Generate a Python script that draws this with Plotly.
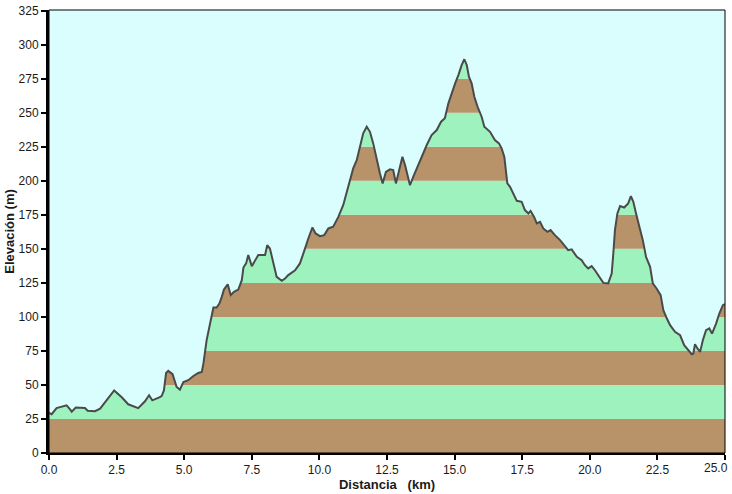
import plotly.graph_objects as go

distance_km = [
    0.00, 0.10, 0.28, 0.65, 0.78, 0.84, 0.99, 1.33, 1.43, 1.70, 1.89, 2.13, 2.41, 2.69, 2.93,
    3.30, 3.55, 3.70, 3.82, 4.10, 4.17, 4.25, 4.33, 4.41, 4.57, 4.72, 4.84, 4.97, 5.15, 5.34,
    5.52, 5.65, 5.71, 5.83, 5.93, 6.02, 6.08, 6.20, 6.30, 6.39, 6.47, 6.61, 6.72, 6.84, 7.00,
    7.13, 7.19, 7.29, 7.37, 7.50, 7.62, 7.74, 7.99, 8.07, 8.17, 8.30, 8.42, 8.61, 8.73, 8.85,
    9.10, 9.28, 9.37, 9.47, 9.59, 9.74, 9.86, 10.02, 10.18, 10.33, 10.51, 10.70, 10.88, 11.01,
    11.13, 11.25, 11.38, 11.50, 11.62, 11.75, 11.87, 11.99, 12.12, 12.24, 12.34, 12.46, 12.61,
    12.73, 12.83, 12.92, 13.07, 13.17, 13.27, 13.35, 13.47, 13.60, 13.78, 13.97, 14.15, 14.34,
    14.50, 14.64, 14.77, 14.89, 15.02, 15.14, 15.26, 15.36, 15.45, 15.53, 15.63, 15.73, 15.85,
    16.00, 16.10, 16.31, 16.49, 16.64, 16.74, 16.84, 16.89, 16.95, 17.05, 17.17, 17.30, 17.48,
    17.60, 17.73, 17.81, 17.94, 18.04, 18.16, 18.28, 18.43, 18.55, 18.71, 18.90, 19.08, 19.20,
    19.33, 19.52, 19.70, 19.82, 19.94, 20.07, 20.19, 20.38, 20.50, 20.68, 20.81, 20.87, 20.93,
    21.02, 21.12, 21.27, 21.42, 21.52, 21.61, 21.71, 21.83, 21.96, 22.08, 22.23, 22.33, 22.47,
    22.62, 22.72, 22.85, 22.97, 23.15, 23.34, 23.49, 23.65, 23.77, 23.83, 23.89, 23.98, 24.08,
    24.18, 24.30, 24.42, 24.52, 24.67, 24.79, 24.92, 25.00,
]
elevation_m = [
    29.4, 28.5, 33.0, 35.0, 32.0, 30.4, 33.4, 33.0, 31.0, 30.7, 32.6, 38.7, 46.0, 41.0, 35.8,
    33.0, 38.0, 42.4, 38.7, 41.0, 42.0, 46.0, 58.8, 60.3, 57.9, 48.5, 46.6, 52.2, 53.5, 56.6,
    58.8, 59.6, 65.7, 82.9, 92.6, 103.7, 106.9, 106.9, 109.8, 114.7, 120.1, 124.0, 116.0, 118.4, 120.1,
    127.0, 136.3, 139.3, 145.4, 137.3, 141.7, 145.4, 145.4, 152.7, 150.3, 139.3, 129.4, 126.5, 128.2, 130.7,
    134.3, 139.3, 144.1, 150.3, 157.6, 165.7, 161.3, 159.3, 160.1, 165.0, 166.2, 173.5, 182.1, 191.9,
    199.3, 209.1, 215.2, 225.0, 234.9, 239.7, 236.0, 227.5, 215.2, 205.4, 198.1, 206.6, 208.4,
    207.9, 198.1, 205.4, 217.6, 211.5, 202.9, 196.8, 202.9, 209.1, 217.6, 226.3, 233.6, 237.3,
    243.4, 245.9, 256.9, 264.3, 271.6, 277.7, 285.0, 289.3, 285.0, 276.5, 271.6, 261.8, 254.4,
    247.1, 239.7, 236.0, 229.9, 227.5, 223.8, 217.6, 207.9, 198.1, 195.6, 190.7, 185.3, 184.6,
    178.5, 176.0, 177.9, 173.5, 168.7, 169.9, 165.0, 162.5, 163.8, 160.1, 156.4, 152.0, 149.0,
    149.6, 144.1, 141.7, 138.0, 135.6, 137.3, 134.3, 129.0, 125.0, 124.6, 131.9, 146.6, 163.8,
    176.0, 181.4, 180.4, 183.4, 188.8, 184.6, 176.0, 166.2, 156.4, 144.1, 136.8, 124.6, 120.9,
    116.0, 104.9, 98.8, 93.9, 89.0, 86.5, 79.2, 75.5, 72.6, 73.1, 79.9, 76.8, 74.3,
    82.9, 90.2, 91.5, 87.8, 95.1, 102.5, 108.6, 109.3,
]
x_tick_values = [0.0, 2.5, 5.0, 7.5, 10.0, 12.5, 15.0, 17.5, 20.0, 22.5, 25.0]
y_tick_values = [0, 25, 50, 75, 100, 125, 150, 175, 200, 225, 250, 275, 300, 325]

# ---- styles ----
BG = "#DAFEFE"
BAND_COLORS = ["#B89268", "#9EF2BE"]
LINE_COLOR = "#4A4A4A"
FONT = "Liberation Sans, Arial, sans-serif"
TXT = "#1a1a1a"

# x tick labels; the last one is drawn as an annotation right-aligned so it stays on the page
x_tick_text = [f"{v:.1f}" for v in x_tick_values]
last_label = x_tick_text[-1]
x_tick_text[-1] = ""

fig = go.Figure()

# alternating elevation bands (drawn behind traces)
for i, lo in enumerate(y_tick_values[:-1]):
    hi = y_tick_values[i + 1]
    fig.add_shape(type="rect", xref="x domain", yref="y", x0=0, x1=1, y0=lo, y1=hi,
                  fillcolor=BAND_COLORS[i % 2], line_width=0, layer="below")

# invisible profile trace + sky fill above it
fig.add_trace(go.Scatter(x=distance_km, y=elevation_m, mode="lines",
                         line=dict(color="rgba(0,0,0,0)", width=0), hoverinfo="skip",
                         showlegend=False))
sky_top = [y_tick_values[-1] + 40] * len(distance_km)
fig.add_trace(go.Scatter(x=distance_km, y=sky_top, mode="lines", fill="tonexty",
                         fillcolor=BG, line=dict(color="rgba(0,0,0,0)", width=0),
                         hoverinfo="skip", showlegend=False))
# visible profile line
fig.add_trace(go.Scatter(x=distance_km, y=elevation_m, mode="lines",
                         line=dict(color=LINE_COLOR, width=2), hoverinfo="skip",
                         showlegend=False))

# thin frame on top/right
fig.add_shape(type="rect", xref="x domain", yref="y domain", x0=0, x1=1, y0=0, y1=1,
              line=dict(color="black", width=1), fillcolor="rgba(0,0,0,0)", layer="above")

fig.add_annotation(text=last_label, x=x_tick_values[-1], xref="x", y=0, yref="paper",
                   xanchor="right", yanchor="middle", xshift=5, yshift=-15,
                   showarrow=False, font=dict(size=12, family=FONT, color=TXT))

fig.update_layout(
    width=732, height=494,
    margin=dict(l=49, r=7, t=10, b=41),
    paper_bgcolor="white",
    plot_bgcolor=BG,
    font=dict(family=FONT, size=12, color=TXT),
    showlegend=False,
)
fig.update_xaxes(
    range=[0, 25], tickvals=x_tick_values, ticktext=x_tick_text,
    showgrid=False, zeroline=False, automargin=False,
    showline=True, linecolor="black", linewidth=2,
    ticks="outside", ticklen=5, tickwidth=2, tickcolor="black",
    ticklabeloverflow="allow",
    tickfont=dict(size=12, family=FONT, color=TXT),
    title=dict(text="<b>Distancia&nbsp;&nbsp;&nbsp;(km)</b>", font=dict(size=13, family=FONT, color=TXT),
               standoff=3),
)
fig.update_yaxes(
    range=[0, 325.5], tickvals=y_tick_values,
    showgrid=False, zeroline=False, automargin=False,
    showline=True, linecolor="black", linewidth=3,
    ticks="outside", ticklen=5, tickwidth=2, tickcolor="black",
    ticklabeloverflow="allow",
    tickfont=dict(size=12, family=FONT, color=TXT),
    title=dict(text="<b>Elevación (m)</b>", font=dict(size=13, family=FONT, color=TXT),
               standoff=2),
)

fig.write_html("out.html")
